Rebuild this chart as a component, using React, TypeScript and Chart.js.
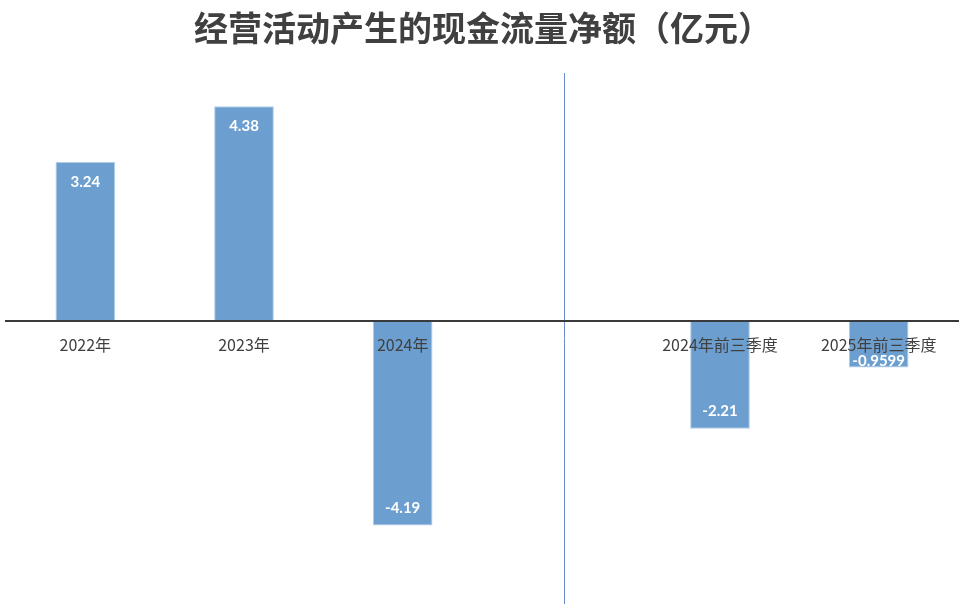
import React, { useEffect, useRef } from "react";
import { Chart, registerables } from "chart.js";

Chart.register(...registerables);

const titleText = "经营活动产生的现金流量净额（亿元）";
const categories = ["2022年", "2023年", "2024年", "", "2024年前三季度", "2025年前三季度"];
const cashFlow: (number | null)[] = [3.24, 4.38, -4.19, null, -2.21, -0.9599];
const valueLabels = ["3.24", "4.38", "-4.19", "", "-2.21", "-0.9599"];
const dividerIndex = 3;

const CJK = '"Noto Sans CJK SC", sans-serif';
const LABEL_FONT = 'Lato, "Noto Sans CJK SC", sans-serif';

const overlayPlugin = {
  id: "overlay",
  afterDatasetsDraw(chart: any) {
    const { ctx, chartArea } = chart;
    const meta = chart.getDatasetMeta(0);
    ctx.save();
    // divider line
    const xs = chart.scales.x;
    const dx = Math.round(xs.getPixelForValue(dividerIndex)) + 3.5;
    ctx.strokeStyle = "#6a8dcc";
    ctx.lineWidth = 1;
    ctx.beginPath();
    ctx.moveTo(dx, chartArea.top - 3);
    ctx.lineTo(dx, chartArea.bottom - 10);
    ctx.stroke();
    // value labels
    ctx.fillStyle = "#ffffff";
    ctx.font = "bold 15px " + LABEL_FONT;
    ctx.textAlign = "center";
    ctx.textBaseline = "middle";
    meta.data.forEach((bar: any, i: number) => {
      const v = cashFlow[i];
      if (v == null) return;
      const len = Math.abs(bar.base - bar.y);
      let y: number;
      if (v >= 0) y = bar.y + 20;
      else y = bar.y - (len < 60 ? 6 : 17);
      ctx.fillText(valueLabels[i], bar.x, y);
    });
    ctx.restore();
  },
  afterDraw(chart: any) {
    const { ctx, width } = chart;
    ctx.save();
    ctx.fillStyle = "#404040";
    ctx.font = "bold 34px " + CJK;
    ctx.textAlign = "center";
    ctx.textBaseline = "middle";
    ctx.fillText(titleText, width / 2, 28);
    ctx.restore();
  },
};

export default function App() {
  const ref = useRef<HTMLCanvasElement>(null);
  useEffect(() => {
    if (!ref.current) return;
    const chart = new Chart(ref.current, {
      type: "bar",
      data: {
        labels: categories,
        datasets: [
          {
            data: cashFlow,
            backgroundColor: "#6c9fcf",
            borderColor: "#b2cce8",
            borderWidth: 1,
            categoryPercentage: 1,
            barPercentage: 0.376,
          },
        ],
      },
      options: {
        animation: false,
        responsive: false,
        maintainAspectRatio: false,
        layout: { padding: { left: 6, right: 8, top: 76, bottom: 2 } },
        plugins: {
          legend: { display: false },
          title: { display: false },
          tooltip: { enabled: false },
        },
        scales: {
          x: {
            position: { y: 0 } as any,
            grid: { display: false },
            border: { display: true, color: "#3a3a3a", width: 2, z: 1 },
            ticks: {
              z: 1,
              color: "#404040",
              font: { size: 16, family: CJK },
              padding: 7,
              maxRotation: 0,
              autoSkip: false,
            },
          },
          y: {
            display: false,
            min: -6,
            max: 5,
          },
        },
      },
      plugins: [overlayPlugin],
    });
    return () => chart.destroy();
  }, []);
  return (
    <div style={{ position: "fixed", left: 0, top: 0, width: 966, height: 616, background: "#fff" }}>
      <canvas ref={ref} width={966} height={616} style={{ width: 966, height: 616 }} />
    </div>
  );
}
